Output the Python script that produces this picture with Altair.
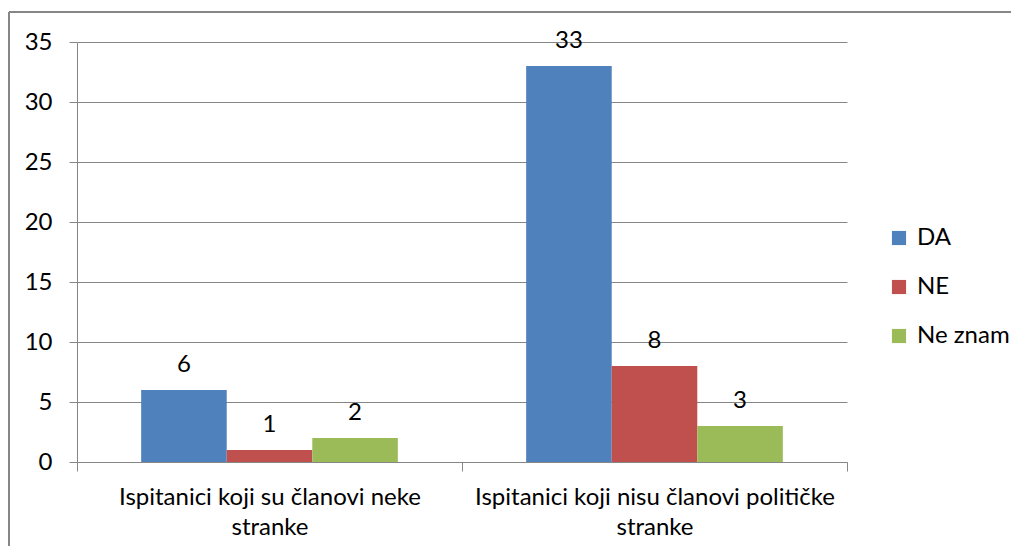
import altair as alt
import pandas as pd

groups = ["Ispitanici koji su članovi neke stranke",
          "Ispitanici koji nisu članovi političke stranke"]
series = ["DA", "NE", "Ne znam"]
values_da = [6, 33]
values_ne = [1, 8]
values_nz = [2, 3]
colors = ["#4F81BD", "#C0504D", "#9BBB59"]
y_ticks = [0, 5, 10, 15, 20, 25, 30, 35]

rows = []
for i, g in enumerate(groups):
    for s, vals in zip(series, [values_da, values_ne, values_nz]):
        rows.append({"group": g, "series": s, "value": vals[i]})
df = pd.DataFrame(rows)

FONT = "Lato"
FS = 24
GRAY = "#868686"

x_enc = alt.X("group:N", sort=groups, title=None,
              scale=alt.Scale(paddingInner=0, paddingOuter=0),
              axis=alt.Axis(tickBand="extent", labelAngle=0, labelLimit=0,
                            labelExpr="[slice(datum.label, 0, lastindexof(datum.label, ' ')), slice(datum.label, lastindexof(datum.label, ' ') + 1)]",
                            labelLineHeight=30, labelPadding=14, tickSize=9,
                            domainColor=GRAY, tickColor=GRAY, grid=False))
xo_enc = alt.XOffset("series:N", sort=series,
                     scale=alt.Scale(paddingInner=0, paddingOuter=0.75))
y_enc = alt.Y("value:Q", title=None,
              scale=alt.Scale(domain=[0, 35], nice=False),
              axis=alt.Axis(values=y_ticks, tickSize=8, labelPadding=17,
                            domainColor=GRAY, tickColor=GRAY, gridColor=GRAY))

bars = alt.Chart(df).mark_bar().encode(
    x=x_enc, xOffset=xo_enc, y=y_enc,
    color=alt.Color("series:N", sort=series, title=None,
                    scale=alt.Scale(domain=series, range=colors),
                    legend=alt.Legend(orient="none", legendX=810, legendY=184,
                                      symbolType="square", symbolSize=200,
                                      symbolStrokeWidth=0, rowPadding=25,
                                      labelFontSize=FS, labelFont=FONT,
                                      labelColor="black", labelOffset=6))
)
labels = alt.Chart(df).mark_text(fontSize=FS, font=FONT, color="black",
                                 baseline="alphabetic", dy=-18).encode(
    x=alt.X("group:N", sort=groups), xOffset=alt.XOffset("series:N", sort=series),
    y="value:Q", text="value:Q"
)
frame = alt.Chart(alt.Data(values=[{}])).mark_rule(color=GRAY, strokeWidth=2)
top_line = frame.encode(x=alt.value(-68), x2=alt.value(934), y=alt.value(-30))
left_line = frame.encode(x=alt.value(-68), y=alt.value(-30), y2=alt.value(600))

chart = alt.layer(bars, labels, top_line, left_line).properties(
    width=770, height=420,
    autosize=alt.AutoSizeParams(type="none"),
    padding={"left": 69, "top": 34, "right": 164, "bottom": 84},
).configure_view(stroke=None).configure_axis(
    labelFont=FONT, labelFontSize=FS, labelColor="black"
)

chart.save("out.html", embed_options={"renderer": "svg", "actions": False})
